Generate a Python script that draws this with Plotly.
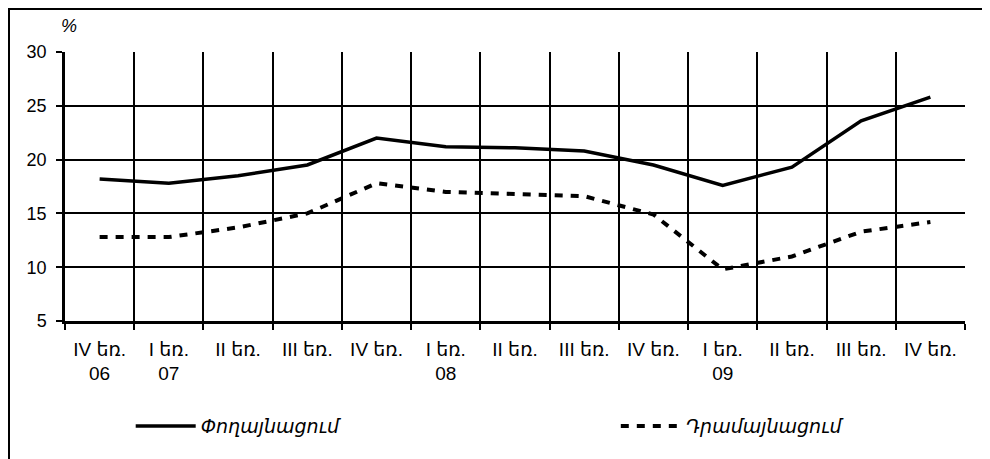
import plotly.graph_objects as go

# quarters, Q4 2006 .. Q4 2009
QUARTERS = [
    'IV եռ.<br>06', 'I եռ.<br>07', 'II եռ.', 'III եռ.', 'IV եռ.',
    'I եռ.<br>08', 'II եռ.', 'III եռ.', 'IV եռ.',
    'I եռ.<br>09', 'II եռ.', 'III եռ.', 'IV եռ.',
]
# tick text is not unique, so plot on plain ids and label them
QIDS = ['q%d' % i for i in range(len(QUARTERS))]

DOLLARIZATION = [18.2, 17.8, 18.5, 19.5, 22.0, 21.2, 21.1, 20.8, 19.5, 17.6, 19.3, 23.6, 25.8]
MONETIZATION = [12.8, 12.8, 13.7, 15.0, 17.8, 17.0, 16.8, 16.6, 14.9, 9.8, 11.0, 13.3, 14.2]

NAMES = ['Փողայնացում', 'Դրամայնացում']
FONT = 'Liberation Sans, Arial, DejaVu Sans, sans-serif'

fig = go.Figure()
fig.add_trace(go.Scatter(
    x=QIDS, y=DOLLARIZATION, name=NAMES[0], mode='lines', legend='legend',
    line=dict(color='black', width=3.5)))
fig.add_trace(go.Scatter(
    x=QIDS, y=MONETIZATION, name=NAMES[1], mode='lines', legend='legend2',
    line=dict(color='black', width=4, dash='8px,8px')))

fig.update_xaxes(
    type='category', tickmode='array', tickvals=QIDS, ticktext=QUARTERS,
    tickson='boundaries', ticks='outside', ticklen=6, tickwidth=2, tickcolor='black',
    showgrid=True, gridcolor='black', gridwidth=1.8,
    showline=True, linecolor='black', linewidth=2.5,
    tickfont=dict(size=19, color='black'), ticklabelstandoff=9,
    range=[-0.5, 12.5], automargin=False,
)
fig.update_yaxes(
    range=[5, 30], dtick=5, tick0=5,
    ticks='outside', ticklen=6, tickwidth=2, tickcolor='black',
    showgrid=True, gridcolor='black', gridwidth=1.8,
    showline=True, linecolor='black', linewidth=2.5,
    zeroline=False, automargin=False,
    tickfont=dict(size=18, color='black'), ticklabelstandoff=6,
)

leg = dict(
    orientation='h', y=-0.32, xanchor='left', yanchor='top',
    font=dict(size=19, style='italic', color='black'),
    bgcolor='rgba(0,0,0,0)', itemwidth=60,
)

fig.update_layout(
    width=990, height=459,
    margin=dict(l=57, r=33, t=44, b=146, autoexpand=False),
    plot_bgcolor='white', paper_bgcolor='white',
    font=dict(family=FONT, color='black'),
    showlegend=True,
    legend=dict(leg, x=0.073),
    legend2=dict(leg, x=0.612),
    annotations=[dict(
        text='%', xref='paper', yref='paper', x=0.0, y=1.0,
        xanchor='left', yanchor='bottom', xshift=-6, yshift=14, showarrow=False,
        font=dict(size=18, style='italic', color='black'),
    )],
    shapes=[dict(
        type='rect', xref='paper', yref='paper',
        x0=(1 - 57) / 900, x1=(979 - 57) / 900,
        y0=-(470 - 321) / 269, y1=1 + 43 / 269,
        line=dict(color='black', width=2), layer='below',
    )],
)

fig.write_html('out.html')
